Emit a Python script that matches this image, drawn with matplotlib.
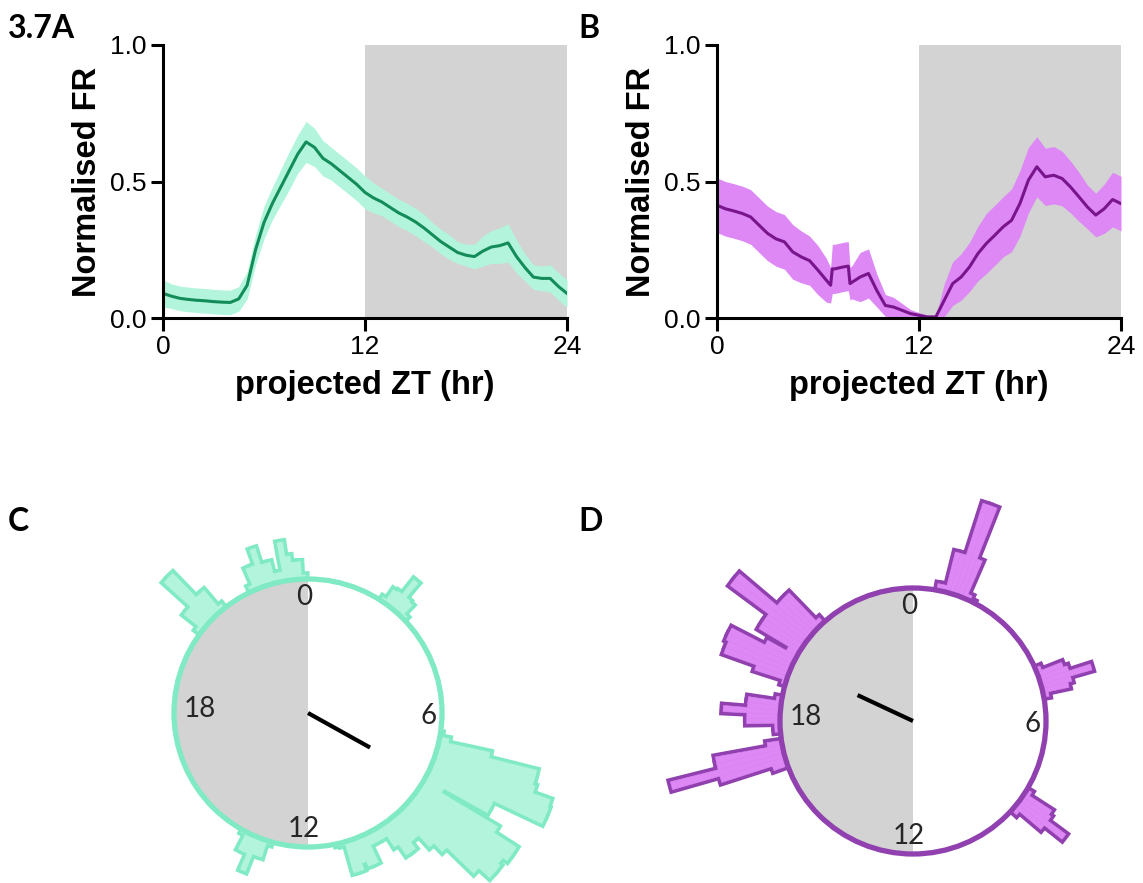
#!/usr/bin/env python3
"""Firing-rate traces (A, B) and phase histograms on a 24 h clock (C, D)."""
import numpy as np

import matplotlib

matplotlib.use("Agg")
import matplotlib.pyplot as plt
from matplotlib.patches import Circle, Wedge

FIG_W, FIG_H = 1143, 883
DPI = 100

GRAY = "#d3d3d3"
GREEN_LINE = "#138c5a"
GREEN_BAND = "#b3f5dc"
GREEN_EDGE = "#80eac4"
PURPLE_LINE = "#78148c"
PURPLE_BAND = "#dd88f5"
PURPLE_EDGE = "#9141af"

# ---- panel A: mean normalised FR +/- error, sampled every 0.5 h ----
a_hours = np.arange(0, 24.01, 0.5)
a_mean = [0.09, 0.08, 0.072, 0.068, 0.065, 0.063, 0.06, 0.058, 0.057, 0.07,
          0.12, 0.25, 0.35, 0.42, 0.48, 0.54, 0.60, 0.645, 0.625, 0.585,
          0.565, 0.54, 0.515, 0.49, 0.46, 0.44, 0.425, 0.405, 0.385, 0.37,
          0.352, 0.33, 0.305, 0.28, 0.26, 0.24, 0.23, 0.225, 0.245, 0.26,
          0.265, 0.275, 0.225, 0.185, 0.15, 0.145, 0.145, 0.115, 0.09]
a_err = [0.05, 0.045, 0.045, 0.045, 0.045, 0.045, 0.045, 0.045, 0.045, 0.045,
         0.05, 0.055, 0.06, 0.06, 0.065, 0.07, 0.07, 0.075, 0.07, 0.065,
         0.06, 0.06, 0.06, 0.06, 0.06, 0.055, 0.05, 0.05, 0.05, 0.05,
         0.05, 0.05, 0.045, 0.045, 0.045, 0.04, 0.04, 0.045, 0.055, 0.06,
         0.065, 0.07, 0.06, 0.05, 0.045, 0.045, 0.05, 0.05, 0.05]

# ---- panel B ----
b_hours = [0, 0.5, 1, 1.5, 2, 2.5, 3, 3.5, 4, 4.5, 5, 5.5, 6, 6.5, 6.75, 6.85,
           7, 7.5, 7.8, 7.9, 8, 8.5, 9, 9.5, 10, 10.5, 11, 11.5, 12, 12.5, 13,
           13.5, 14, 14.5, 15, 15.5, 16, 16.5, 17, 17.5, 18, 18.5, 19, 19.5,
           20, 20.5, 21, 21.5, 22, 22.5, 23, 23.5, 24]
b_mean = [0.413, 0.40, 0.392, 0.383, 0.37, 0.34, 0.31, 0.29, 0.279, 0.242,
          0.224, 0.21, 0.175, 0.138, 0.12, 0.18, 0.18, 0.187, 0.19, 0.126,
          0.13, 0.15, 0.163, 0.10, 0.046, 0.04, 0.028, 0.016, 0.01, 0.004,
          0.004, 0.065, 0.126, 0.15, 0.187, 0.236, 0.273, 0.303, 0.334, 0.358,
          0.42, 0.505, 0.554, 0.517, 0.523, 0.511, 0.48, 0.444, 0.407, 0.377,
          0.40, 0.434, 0.419]
b_err = [0.10, 0.10, 0.10, 0.10, 0.10, 0.10, 0.10, 0.10, 0.10, 0.10,
         0.095, 0.09, 0.09, 0.08, 0.065, 0.09, 0.09, 0.09, 0.09, 0.06,
         0.06, 0.09, 0.09, 0.06, 0.04, 0.035, 0.025, 0.015, 0.01, 0.005,
         0.005, 0.06, 0.08, 0.085, 0.09, 0.10, 0.11, 0.11, 0.11, 0.115,
         0.12, 0.12, 0.11, 0.105, 0.105, 0.10, 0.095, 0.09, 0.08, 0.08,
         0.09, 0.10, 0.10]

# ---- panels C, D: phase histograms, bins of 0.125 h, length in circle radii ----
BIN_H = 0.125
c_group_start = [20.5, 22.375, 2.25, 6.625, 13.125]
c_group_len = [
    [0.04, 0.18, 0.18, 0.45, 0.45, 0.20, 0.20, 0.04],
    [0.04, 0.17, 0.17, 0.29, 0.16, 0.16, 0.07, 0.07, 0.29, 0.18, 0.13, 0.13, 0.03],
    [0.03, 0.12, 0.13, 0.27, 0.13, 0.12, 0.03],
    [0.01, 0.07, 0.39, 0.76, 0.76, 0.78, 0.92, 0.93, 0.93, 0.53,
     0.53, 0.16, 0.65, 0.85, 0.85, 0.81, 0.83, 0.83, 0.72, 0.44,
     0.35, 0.23, 0.23, 0.29, 0.29, 0.19, 0.09, 0.09, 0.09, 0.09,
     0.23, 0.23, 0.19, 0.24, 0.24, 0.02, 0.01],
    [0.02, 0.13, 0.13, 0.27, 0.14, 0.14, 0.02],
]
c_vector = (7.94, 0.53)  # mean phase (h), vector length (radii)

d_group_start = [0.75, 4.5, 8.125, 16.75, 17.75, 19.125]
d_group_len = [
    [0.05, 0.05, 0.31, 0.31, 0.72, 0.72, 0.31, 0.04, 0.01],
    [0.04, 0.20, 0.23, 0.40, 0.23, 0.20, 0.04],
    [0.04, 0.24, 0.26, 0.43, 0.26, 0.05],
    [0.11, 0.51, 0.88, 0.51, 0.51, 0.11],
    [0.04, 0.04, 0.25, 0.25, 0.43, 0.25, 0.25, 0.04],
    [0.03, 0.25, 0.51, 0.51, 0.53, 0.53, 0.25, 0.09, 0.35, 0.35,
     0.35, 0.71, 0.71, 0.34, 0.34, 0.34, 0.05],
]
d_vector = (19.67, 0.46)

CLOCK_TICKS = ["0", "6", "12", "18"]


def style_trace_axes(ax):
    ax.set_xlim(0, 24)
    ax.set_ylim(0, 1.0)
    ax.set_xticks([0, 12, 24])
    ax.set_yticks([0, 0.5, 1.0], ["0.0", "0.5", "1.0"])
    for side in ("top", "right"):
        ax.spines[side].set_visible(False)
    for side in ("left", "bottom"):
        ax.spines[side].set_linewidth(2.2)
    ax.tick_params(direction="out", length=9, width=2.2, labelsize=19, pad=3)
    ax.set_xlabel("projected ZT (hr)", fontsize=23.5, fontweight="bold", labelpad=8)
    ax.set_ylabel("Normalised FR", fontsize=23.5, fontweight="bold", labelpad=5)


def plot_trace(ax, hours, mean, err, line_color, band_color):
    hours = np.asarray(hours, dtype=float)
    mean = np.asarray(mean, dtype=float)
    err = np.asarray(err, dtype=float)
    ax.axvspan(12, 24, color=GRAY, lw=0, zorder=0)
    ax.fill_between(hours, np.clip(mean - err, 0, None), mean + err,
                    color=band_color, lw=0, zorder=1)
    ax.plot(hours, mean, color=line_color, lw=2.2, zorder=2)
    style_trace_axes(ax)


def clock_axes(fig, cx, cy, radius, half=2.3):
    ax = fig.add_axes([(cx - half * radius) / FIG_W,
                       1 - (cy + half * radius) / FIG_H,
                       2 * half * radius / FIG_W,
                       2 * half * radius / FIG_H])
    ax.set_xlim(-half, half)
    ax.set_ylim(-half, half)
    ax.axis("off")
    return ax


def hour_to_deg(hour):
    # clock runs clockwise from the top
    return 90.0 - 15.0 * hour


def plot_clock(ax, starts, lengths, vector, edge_color, fill_color):
    wedges = []
    for start, group in zip(starts, lengths):
        for i, length in enumerate(group):
            centre = start + i * BIN_H
            t1 = hour_to_deg(centre + BIN_H / 2)
            t2 = hour_to_deg(centre - BIN_H / 2)
            wedges.append((1 + length, t1, t2, length))
    # outline pass underneath, fill pass on top -> only the outer contour shows
    for r, t1, t2, w in wedges:
        ax.add_patch(Wedge((0, 0), r, t1, t2, width=w, facecolor=edge_color,
                           edgecolor=edge_color, lw=5.5, joinstyle="miter", zorder=1))
    for r, t1, t2, w in wedges:
        ax.add_patch(Wedge((0, 0), r, t1, t2, width=w, facecolor=fill_color,
                           edgecolor=fill_color, lw=0.4, zorder=2))
    ax.add_patch(Wedge((0, 0), 1, 90, 270, facecolor=GRAY, lw=0, zorder=3))
    ax.add_patch(Wedge((0, 0), 1, -90, 90, facecolor="white", lw=0, zorder=3))
    ax.add_patch(Circle((0, 0), 1, fill=False, edgecolor=edge_color, lw=3.8, zorder=4))

    txt = dict(fontsize=20, color="#262626", family=["Lato", "DejaVu Sans"], zorder=5)
    ax.text(-0.03, 0.96, CLOCK_TICKS[0], ha="center", va="top", **txt)
    ax.text(0.96, -0.02, CLOCK_TICKS[1], ha="right", va="center", **txt)
    ax.text(-0.03, -0.96, CLOCK_TICKS[2], ha="center", va="bottom", **txt)
    ax.text(-0.93, 0.03, CLOCK_TICKS[3], ha="left", va="center", **txt)

    phase, vlen = vector
    ang = np.deg2rad(hour_to_deg(phase))
    ax.plot([0, vlen * np.cos(ang)], [0, vlen * np.sin(ang)], color="black",
            lw=3, solid_capstyle="butt", zorder=5)


def main():
    plt.rcParams["font.family"] = ["Liberation Sans", "DejaVu Sans"]
    fig = plt.figure(figsize=(FIG_W / DPI, FIG_H / DPI), dpi=DPI)

    ax_a = fig.add_axes([163 / FIG_W, 1 - 318 / FIG_H, 404 / FIG_W, 273 / FIG_H])
    plot_trace(ax_a, a_hours, a_mean, a_err, GREEN_LINE, GREEN_BAND)
    ax_b = fig.add_axes([717 / FIG_W, 1 - 318 / FIG_H, 404 / FIG_W, 273 / FIG_H])
    plot_trace(ax_b, b_hours, b_mean, b_err, PURPLE_LINE, PURPLE_BAND)

    ax_c = clock_axes(fig, 308, 713, 134)
    plot_clock(ax_c, c_group_start, c_group_len, c_vector, GREEN_EDGE, GREEN_BAND)
    ax_d = clock_axes(fig, 913, 721, 133)
    plot_clock(ax_d, d_group_start, d_group_len, d_vector, PURPLE_EDGE, PURPLE_BAND)

    label = dict(fontsize=23, fontweight="bold", family=["Lato", "DejaVu Sans"],
                 va="top", ha="left")
    fig.text(8 / FIG_W, 1 - 14 / FIG_H, "3.7A", **label)
    fig.text(578 / FIG_W, 1 - 14 / FIG_H, "B", **label)
    fig.text(8 / FIG_W, 1 - 507 / FIG_H, "C", **label)
    fig.text(578 / FIG_W, 1 - 507 / FIG_H, "D", **label)

    fig.savefig("out.png", dpi=DPI)
    plt.close(fig)


if __name__ == "__main__":
    main()
